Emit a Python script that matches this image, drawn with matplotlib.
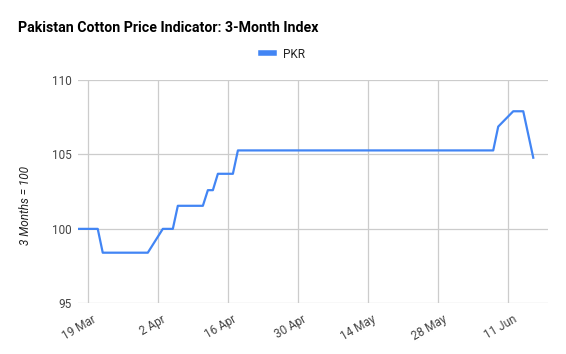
import matplotlib.pyplot as plt
import matplotlib.transforms as mtransforms
import pandas as pd

plt.rcParams['font.family'] = ['Roboto', 'DejaVu Sans']

# breakpoints of the index (3 months = 100)
dates = pd.to_datetime(['2018-03-17', '2018-03-21', '2018-03-22', '2018-03-31',
                        '2018-04-03', '2018-04-05', '2018-04-06', '2018-04-11',
                        '2018-04-12', '2018-04-13', '2018-04-14', '2018-04-17',
                        '2018-04-18', '2018-06-08', '2018-06-09', '2018-06-12',
                        '2018-06-14', '2018-06-16'])
pkr = [100.0, 100.0, 98.4, 98.4,
       100.0, 100.0, 101.55, 101.55,
       102.6, 102.6, 103.7, 103.7,
       105.27, 105.27, 106.87, 107.9,
       107.9, 104.78]

tick_dates = pd.to_datetime(['2018-03-19', '2018-04-02', '2018-04-16', '2018-04-30',
                             '2018-05-14', '2018-05-28', '2018-06-11'])
tick_labels = ['19 Mar', '2 Apr', '16 Apr', '30 Apr', '14 May', '28 May', '11 Jun']
y_ticks = [95, 100, 105, 110]

fig = plt.figure(figsize=(5.66, 3.54), dpi=100)
ax = fig.add_axes([0.1373, 0.1432, 0.8314, 0.6308])

ax.plot(dates, pkr, color='#4285F4', linewidth=1.6, label='PKR')

ax.set_xlim(pd.Timestamp('2018-03-17'), pd.Timestamp('2018-06-19'))
ax.set_ylim(95, 110)
ax.set_yticks(y_ticks)
ax.set_xticks(tick_dates)
ax.set_xticklabels(tick_labels, rotation=30, ha='right', rotation_mode='anchor')

ax.grid(True, color='#cccccc', linewidth=0.9)
ax.set_axisbelow(True)
for s in ax.spines.values():
    s.set_visible(False)
ax.tick_params(length=0, labelsize=8.5, colors='#444444', pad=4.5)
ax.tick_params(axis='x', pad=7)

# nudge the rotated date labels to the right, like the original
shift = mtransforms.ScaledTranslation(4 / 100, 0, fig.dpi_scale_trans)
for lbl in ax.get_xticklabels():
    lbl.set_transform(lbl.get_transform() + shift)

ax.set_ylabel('3 Months = 100', fontstyle='italic', fontsize=8.5, color='#222222')
ax.yaxis.set_label_coords(-0.097, 0.44)

fig.text(0.0323, 1 - 31.5 / 354, 'Pakistan Cotton Price Indicator: 3-Month Index',
         fontsize=10.2, fontweight='bold', color='#000000', va='baseline')

leg = fig.legend(loc='center', bbox_to_anchor=(0.5, 1 - 54 / 354), frameon=False,
                 fontsize=8.5, handlelength=1.07, handletextpad=0.8)
for line in leg.get_lines():
    line.set_linewidth(4)
for t in leg.get_texts():
    t.set_color('#222222')

fig.savefig('out.png', dpi=100)
